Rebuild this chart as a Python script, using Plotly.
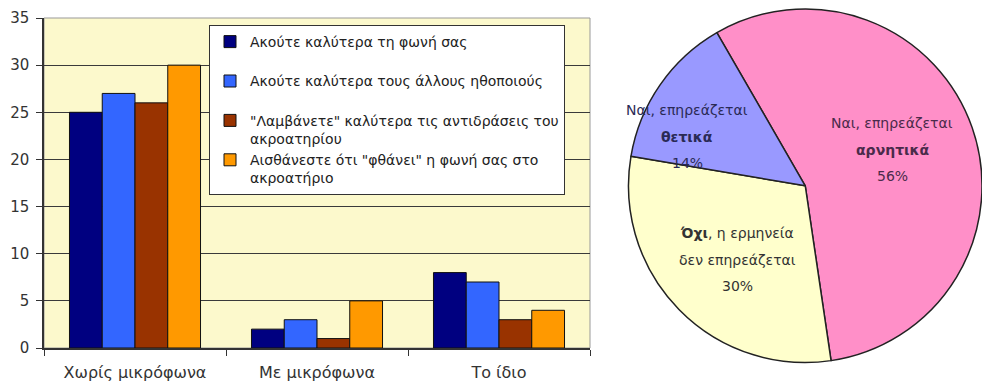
import plotly.graph_objects as go

categories = ["Χωρίς μικρόφωνα", "Με μικρόφωνα", "Το ίδιο"]
series_names = [
    "Ακούτε καλύτερα τη φωνή σας<br> ",
    "Ακούτε καλύτερα τους άλλους ηθοποιούς<br> ",
    "\"Λαμβάνετε\" καλύτερα τις αντιδράσεις του<br>ακροατηρίου",
    "Αισθάνεστε ότι \"φθάνει\" η φωνή σας στο<br>ακροατήριο",
]
s1 = [25, 2, 8]
s2 = [27, 3, 7]
s3 = [26, 1, 3]
s4 = [30, 5, 4]
bar_colors = ["#000080", "#3366FF", "#993300", "#FF9900"]

pie_labels = ["Ναι, επηρεάζεται αρνητικά", "Όχι, η ερμηνεία δεν επηρεάζεται", "Ναι, επηρεάζεται θετικά"]
pie_values = [56, 30, 14]
pie_colors = ["#FF8FC8", "#FFFFCC", "#9999FF"]
pie_label_lines = [
    ["Ναι, επηρεάζεται", "<b>αρνητικά</b>", "56%"],
    ["<b>Όχι</b>, η ερμηνεία", "δεν επηρεάζεται", "30%"],
    ["Ναι, επηρεάζεται", "<b>θετικά</b>", "14%"],
]
pie_label_pos = [(892, 123), (737, 233), (687, 110)]
pie_text_colors = ["#4a2a4a", "#333333", "#2a2a55"]

FONT = "DejaVu Sans"
W, H = 982, 383

fig = go.Figure()
for name, vals, col in zip(series_names, [s1, s2, s3, s4], bar_colors):
    fig.add_trace(go.Bar(x=categories, y=vals, name=name,
                         marker=dict(color=col, line=dict(color="#111111", width=1))))

fig.add_trace(go.Pie(labels=pie_labels, values=pie_values, sort=False, direction="clockwise",
                     rotation=-30, textinfo="none", showlegend=False,
                     marker=dict(colors=pie_colors, line=dict(color="#222222", width=1.5)),
                     domain=dict(x=[0.6400, 1.0], y=[0.04, 0.99])))

annotations = []
for lines, (px, py), tc in zip(pie_label_lines, pie_label_pos, pie_text_colors):
    for i, ln in enumerate(lines):
        annotations.append(dict(x=px / W, y=1 - (py + i * 26.5) / H, xref="paper", yref="paper",
                                text=ln, showarrow=False, xanchor="center", yanchor="middle",
                                font=dict(family=FONT, size=14, color=tc)))

fig.update_layout(
    width=W, height=H,
    margin=dict(l=0, r=0, t=0, b=0, autoexpand=False),
    paper_bgcolor="white",
    plot_bgcolor="#FCF9CC",
    barmode="group", bargap=0.28, bargroupgap=0,
    font=dict(family=FONT, color="#333333"),
    xaxis=dict(domain=[44 / W, 590 / W], type="category", tickson="boundaries",
               ticks="outside", ticklen=6, tickcolor="#333333", showline=True,
               linecolor="#333333", linewidth=1.5, showgrid=False, automargin=False,
               ticklabelstandoff=9,
               tickfont=dict(size=16, color="#333333")),
    yaxis=dict(domain=[1 - 348 / H, 1 - 18 / H], range=[0, 35], dtick=5,
               ticks="outside", ticklen=6, tickcolor="#333333", showline=True,
               linecolor="#333333", linewidth=1.5, gridcolor="#3a3a3a", gridwidth=1,
               zeroline=False, automargin=False, ticklabelstandoff=4,
               tickfont=dict(size=15, color="#333333")),
    legend=dict(x=209 / W, y=1 - 25 / H, xanchor="left", yanchor="top",
                bgcolor="white", bordercolor="#333333", borderwidth=1,
                valign="top", font=dict(family=FONT, size=14, color="#222222"),
                itemwidth=30, tracegroupgap=0),
    annotations=annotations,
    shapes=[dict(type="rect", xref="x domain", yref="y domain", x0=0, x1=1, y0=0, y1=1,
                 line=dict(color="#999999", width=1), layer="below")],
)

fig.write_html("out.html")
